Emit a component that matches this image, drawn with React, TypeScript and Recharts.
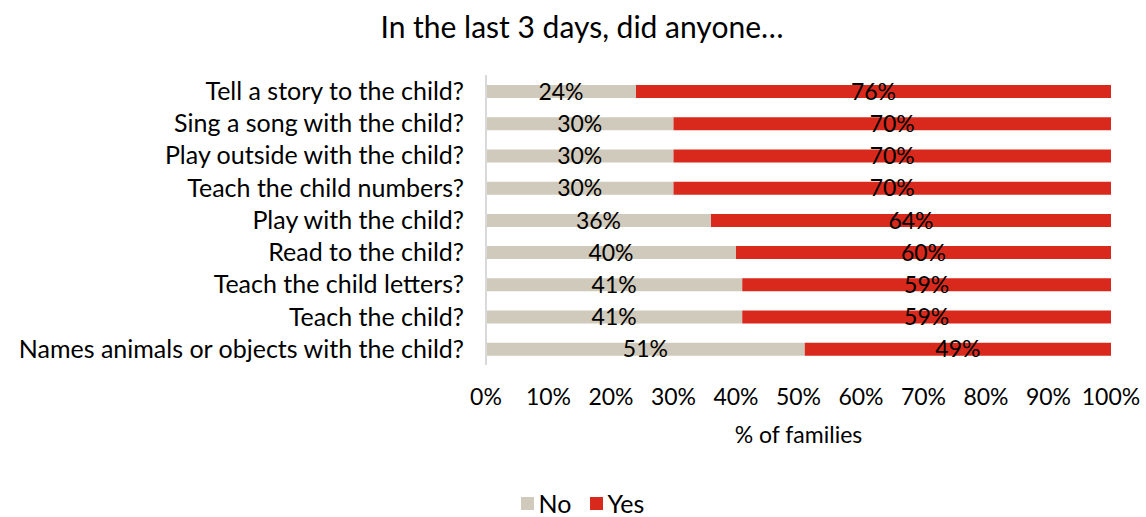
import { BarChart, Bar, XAxis, YAxis, Legend, LabelList } from "recharts"

const questions = [
  "Tell a story to the child?",
  "Sing a song with the child?",
  "Play outside with the child?",
  "Teach the child numbers?",
  "Play with the child?",
  "Read to the child?",
  "Teach the child letters?",
  "Teach the child?",
  "Names animals or objects with the child?",
]
const noValues = [24, 30, 30, 30, 36, 40, 41, 41, 51]
const yesValues = [76, 70, 70, 70, 64, 60, 59, 59, 49]
const xTicks = [0, 10, 20, 30, 40, 50, 60, 70, 80, 90, 100]

const data = questions.map((q, i) => ({ q, No: noValues[i], Yes: yesValues[i] }))

const FONT = "Lato, 'Open Sans', sans-serif"

// legend drawn from the payload recharts hands over
function renderLegend(props: any) {
  const items = props.payload || []
  return (
    <div style={{ display: "flex", justifyContent: "center", alignItems: "center", fontSize: 25, lineHeight: "26px", fontFamily: FONT, color: "#000", paddingBottom: 1 }}>
      {items.map((it: any) => (
        <div key={it.value} style={{ display: "flex", alignItems: "center", marginRight: 18 }}>
          <span style={{ display: "inline-block", width: 13, height: 13, background: it.color, marginRight: 5 }} />
          <span>{it.value}</span>
        </div>
      ))}
    </div>
  )
}

export default function App() {
  return (
    <div style={{ position: "absolute", left: 0, top: 0, width: 1146, height: 517, background: "#fff", fontFamily: FONT }}>
      <div style={{ position: "absolute", top: 8, left: 0, width: 1164, textAlign: "center", fontSize: 30, color: "#000" }}>
        In the last 3 days, did anyone…
      </div>
      <BarChart
        width={1146}
        height={517}
        layout="vertical"
        data={data}
        barSize={13}
        margin={{ top: 75, right: 35, left: 0, bottom: 0 }}
      >
        <XAxis
          type="number"
          domain={[0, 100]}
          ticks={xTicks}
          interval={0}
          tickFormatter={(v) => `${v}%`}
          axisLine={false}
          tickLine={false}
          tickSize={0}
          tickMargin={24}
          height={125}
          tick={{ fill: "#000", fontSize: 23, fontFamily: FONT }}
          label={{ value: "% of families", position: "insideTop", offset: 62, fill: "#000", fontSize: 23, fontFamily: FONT }}
        />
        <YAxis
          type="category"
          dataKey="q"
          width={486}
          interval={0}
          tickLine={false}
          tickSize={0}
          tickMargin={22}
          axisLine={{ stroke: "#d9d9d9", strokeWidth: 2 }}
          tick={{ fill: "#000", fontSize: 25, fontFamily: FONT }}
        />
        <Legend
          verticalAlign="bottom"
          align="center"
          content={renderLegend}
          wrapperStyle={{ left: 36, bottom: 0 }}
        />
        <Bar dataKey="No" stackId="a" fill="#D0CABC" isAnimationActive={false}>
          <LabelList dataKey="No" position="center" formatter={(v: any) => `${v}%`} fill="#000" fontSize={23} fontFamily={FONT} />
        </Bar>
        <Bar dataKey="Yes" stackId="a" fill="#D9291C" isAnimationActive={false}>
          <LabelList dataKey="Yes" position="center" formatter={(v: any) => `${v}%`} fill="#000" fontSize={23} fontFamily={FONT} />
        </Bar>
      </BarChart>
    </div>
  )
}
